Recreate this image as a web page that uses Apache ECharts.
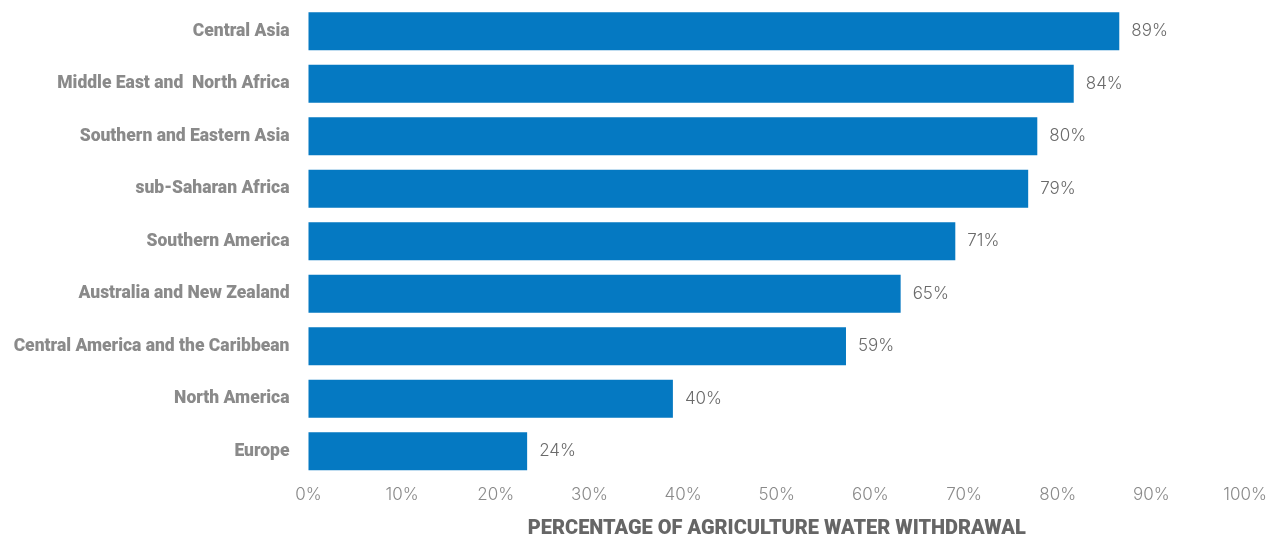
<!DOCTYPE html>
<html>
<head>
<meta charset="utf-8">
<script src="https://cdn.jsdelivr.net/npm/echarts@6/dist/echarts.min.js"></script>
<style>html,body{margin:0;padding:0;background:#fff}#c{width:1283px;height:536px}</style>
</head>
<body>
<div id="c"></div>
<script>
const categories = ["Central Asia", "Middle East and  North Africa", "Southern and Eastern Asia", "sub-Saharan Africa", "Southern America", "Australia and New Zealand", "Central America and the Caribbean", "North America", "Europe"];
const values = [89, 84, 80, 79, 71, 65, 59, 40, 24];
const axisTitle = "PERCENTAGE OF AGRICULTURE WATER WITHDRAWAL";

const chart = echarts.init(document.getElementById('c'), null, {renderer: 'canvas'});
chart.setOption({
  animation: false,
  grid: {left: 308.5, width: 936.5, top: 5, height: 472.5, containLabel: false, outerBoundsMode: 'none'},
  xAxis: [
    {
      type: 'value', min: 0, max: 100, interval: 10,
      axisLine: {show: false}, axisTick: {show: false}, splitLine: {show: false},
      axisLabel: {formatter: '{value}%', color: '#8a8a8a', fontFamily: 'Inter', fontWeight: 300, fontSize: 17, margin: 9},
      name: axisTitle, nameLocation: 'middle', nameGap: 41,
      nameTextStyle: {color: '#666666', fontFamily: 'Roboto', fontWeight: 900, fontSize: 20}
    },
    {
      type: 'value', min: 0, max: 102.8, show: false
    }
  ],
  yAxis: {
    type: 'category', data: categories, inverse: true,
    axisLine: {show: false}, axisTick: {show: false},
    axisLabel: {color: '#8a8a8a', fontFamily: 'Roboto', fontWeight: 900, fontSize: 17.5, margin: 19}
  },
  series: [{
    type: 'bar', xAxisIndex: 1, data: values, barWidth: 38,
    itemStyle: {color: '#0579c2'},
    label: {show: true, position: 'right', distance: 12, formatter: '{c}%', color: '#6a6a6a', fontFamily: 'Inter', fontWeight: 300, fontSize: 17}
  }]
});
</script>
</body>
</html>
